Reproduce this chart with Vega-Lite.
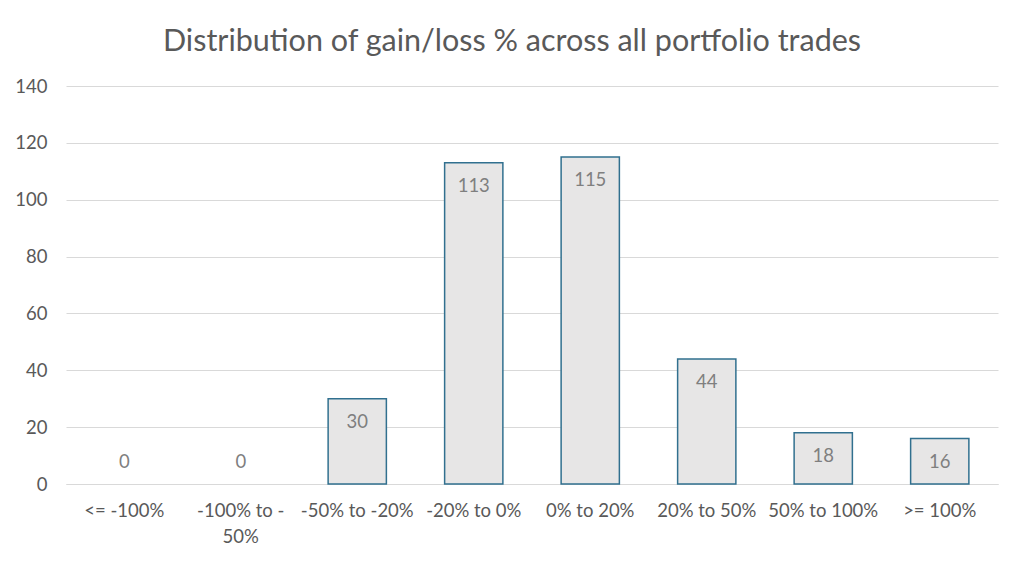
{
  "$schema": "https://vega.github.io/schema/vega-lite/v6.json",
  "width": 932,
  "height": 398,
  "autosize": {"type": "none"},
  "padding": {"left": 66, "top": 86, "right": 26, "bottom": 80},
  "background": "white",
  "config": {
    "font": "Lato",
    "view": {"stroke": null}
  },
  "title": {
    "text": "Distribution of gain/loss % across all portfolio trades",
    "fontSize": 30.5,
    "font": "Lato",
    "fontWeight": "normal",
    "color": "#595959",
    "anchor": "middle",
    "offset": 20,
    "dx": -20
  },
  "data": {
    "values": [
      {"range": "<= -100%", "count": 0},
      {"range": "-100% to -50%", "count": 0},
      {"range": "-50% to -20%", "count": 30},
      {"range": "-20% to 0%", "count": 113},
      {"range": "0% to 20%", "count": 115},
      {"range": "20% to 50%", "count": 44},
      {"range": "50% to 100%", "count": 18},
      {"range": ">= 100%", "count": 16}
    ]
  },
  "encoding": {
    "x": {
      "field": "range",
      "type": "nominal",
      "sort": ["<= -100%", "-100% to -50%", "-50% to -20%", "-20% to 0%", "0% to 20%", "20% to 50%", "50% to 100%", ">= 100%"],
      "scale": {"paddingInner": 0.5, "paddingOuter": 0.25, "domain": ["<= -100%", "-100% to -50%", "-50% to -20%", "-20% to 0%", "0% to 20%", "20% to 50%", "50% to 100%", ">= 100%"]},
      "axis": {
        "title": null,
        "labelAngle": 0,
        "labelFontSize": 18.5,
        "labelColor": "#595959",
        "labelPadding": 17,
        "labelLineHeight": 26,
        "labelLimit": 200,
        "ticks": false,
        "domainColor": "#d9d9d9",
        "labelExpr": "datum.value == '-100% to -50%' ? ['-100% to -', '50%'] : datum.value"
      }
    },
    "y": {
      "field": "count",
      "type": "quantitative",
      "scale": {"domain": [0, 140]},
      "axis": {
        "title": null,
        "values": [0, 20, 40, 60, 80, 100, 120, 140],
        "labelFontSize": 18.5,
        "labelColor": "#595959",
        "labelPadding": 19,
        "ticks": false,
        "domain": false,
        "gridColor": "#d9d9d9",
        "gridWidth": 1
      }
    }
  },
  "layer": [
    {
      "transform": [{"filter": "datum.count > 0"}],
      "mark": {"type": "bar", "fill": "#e7e6e6", "stroke": "#31708f", "strokeWidth": 1.5}
    },
    {
      "transform": [{"filter": "datum.count > 0"}],
      "mark": {"type": "text", "baseline": "top", "dy": 14, "fontSize": 18.5, "color": "#7f7f7f"},
      "encoding": {"text": {"field": "count", "type": "quantitative"}}
    },
    {
      "transform": [{"filter": "datum.count == 0"}],
      "mark": {"type": "text", "baseline": "top", "dy": -31, "fontSize": 18.5, "color": "#7f7f7f"},
      "encoding": {"text": {"field": "count", "type": "quantitative"}}
    }
  ]
}
